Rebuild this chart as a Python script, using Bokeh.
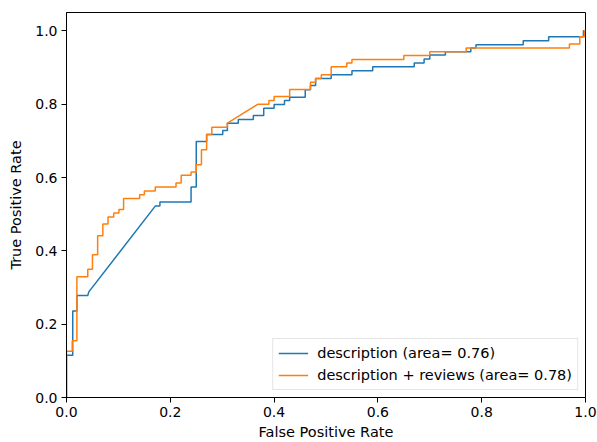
from bokeh.plotting import figure
from bokeh.models import Range1d, FixedTicker, PrintfTickFormatter, Legend, LegendItem
from bokeh.embed import file_html
from bokeh.resources import INLINE

# ROC curve: description
fpr_desc = [0.0, 0.0, 0.012, 0.012, 0.020, 0.020, 0.041, 0.043, 0.171, 0.180, 0.180, 0.240, 0.240,
            0.250, 0.250, 0.270, 0.270, 0.301, 0.301, 0.310, 0.310, 0.331, 0.331, 0.360, 0.360,
            0.380, 0.380, 0.400, 0.400, 0.420, 0.420, 0.430, 0.430, 0.460, 0.460, 0.470, 0.470,
            0.480, 0.480, 0.510, 0.510, 0.550, 0.550, 0.590, 0.590, 0.670, 0.670, 0.689, 0.689,
            0.700, 0.700, 0.730, 0.730, 0.779, 0.779, 0.789, 0.789, 0.880, 0.880, 0.929, 0.929,
            0.996, 0.996, 1.0]
tpr_desc = [0.0, 0.115, 0.115, 0.236, 0.236, 0.278, 0.278, 0.288, 0.522, 0.522, 0.533, 0.533, 0.574,
            0.574, 0.698, 0.698, 0.717, 0.717, 0.728, 0.728, 0.748, 0.748, 0.758, 0.758, 0.769,
            0.769, 0.789, 0.789, 0.799, 0.799, 0.810, 0.810, 0.819, 0.819, 0.839, 0.839, 0.851,
            0.851, 0.870, 0.870, 0.880, 0.880, 0.891, 0.891, 0.902, 0.902, 0.912, 0.912, 0.923,
            0.923, 0.934, 0.934, 0.943, 0.943, 0.953, 0.953, 0.962, 0.962, 0.973, 0.973, 0.984,
            0.984, 1.0, 1.0]

# ROC curve: description + reviews
fpr_both = [0.0, 0.0, 0.011, 0.011, 0.020, 0.020, 0.041, 0.041, 0.050, 0.050, 0.060, 0.060, 0.070,
            0.070, 0.080, 0.080, 0.091, 0.091, 0.101, 0.101, 0.110, 0.110, 0.141, 0.141, 0.150,
            0.150, 0.171, 0.171, 0.211, 0.211, 0.221, 0.221, 0.240, 0.240, 0.250, 0.250, 0.260,
            0.260, 0.270, 0.270, 0.280, 0.280, 0.310, 0.310, 0.369, 0.390, 0.390, 0.400, 0.400,
            0.430, 0.430, 0.470, 0.470, 0.480, 0.480, 0.491, 0.491, 0.510, 0.510, 0.540, 0.540,
            0.550, 0.550, 0.650, 0.650, 0.700, 0.700, 0.770, 0.770, 0.969, 0.969, 0.989, 0.989,
            0.998, 0.998, 1.0]
tpr_both = [0.0, 0.126, 0.126, 0.155, 0.155, 0.329, 0.329, 0.350, 0.350, 0.389, 0.389, 0.441, 0.441,
            0.473, 0.473, 0.492, 0.492, 0.503, 0.503, 0.513, 0.513, 0.543, 0.543, 0.553, 0.553,
            0.563, 0.563, 0.574, 0.574, 0.585, 0.585, 0.606, 0.606, 0.615, 0.615, 0.635, 0.635,
            0.676, 0.676, 0.717, 0.717, 0.737, 0.737, 0.748, 0.800, 0.800, 0.810, 0.810, 0.821,
            0.821, 0.840, 0.840, 0.860, 0.860, 0.870, 0.870, 0.880, 0.880, 0.902, 0.902, 0.912,
            0.912, 0.922, 0.922, 0.933, 0.933, 0.943, 0.943, 0.953, 0.953, 0.964, 0.964, 0.984,
            0.984, 1.0, 1.0]

labels = ["description (area= 0.76)", "description + reviews (area= 0.78)"]
ticks = [0.0, 0.2, 0.4, 0.6, 0.8, 1.0]

FONT = "DejaVu Sans"

p = figure(width=597, height=442, output_backend="svg", toolbar_location=None,
           x_range=Range1d(0, 1), y_range=Range1d(0, 1.05),
           min_border_left=66, min_border_right=12, min_border_top=12, min_border_bottom=44)
p.grid.visible = False
p.outline_line_color = "black"
p.outline_line_width = 1
p.background_fill_color = "white"
p.border_fill_color = "white"

r1 = p.line(fpr_desc, tpr_desc, line_color="#1f77b4", line_width=1.5)
r2 = p.line(fpr_both, tpr_both, line_color="#ff7f0e", line_width=1.5)

for ax in (p.xaxis[0], p.yaxis[0]):
    ax.ticker = FixedTicker(ticks=ticks)
    ax.formatter = PrintfTickFormatter(format="%.1f")
    ax.minor_tick_line_color = None
    ax.major_tick_in = 0
    ax.major_tick_out = 5
    ax.major_tick_line_color = "black"
    ax.axis_line_color = "black"
    ax.major_label_text_font = FONT
    ax.major_label_text_font_size = "14px"
    ax.major_label_text_color = "black"
    ax.axis_label_text_font = FONT
    ax.axis_label_text_font_size = "14.5px"
    ax.axis_label_text_font_style = "normal"
    ax.axis_label_text_color = "black"
    ax.major_label_standoff = 4

p.xaxis.axis_label = "False Positive Rate"
p.yaxis.axis_label = "True Positive Rate"
p.xaxis.axis_label_standoff = 4
p.yaxis.axis_label_standoff = 8

legend = Legend(items=[LegendItem(label=labels[0], renderers=[r1]),
                       LegendItem(label=labels[1], renderers=[r2])],
                location="bottom_right")
legend.margin = 7
legend.padding = 5
legend.spacing = 4
legend.glyph_width = 30
legend.glyph_height = 18
legend.label_height = 18
legend.label_text_font = FONT
legend.label_text_font_size = "14.5px"
legend.label_text_color = "black"
legend.label_standoff = 9
legend.border_line_color = "#cccccc"
legend.border_line_width = 1
legend.background_fill_alpha = 0.8
p.add_layout(legend)

open("out.html", "w").write(file_html(p, INLINE))
